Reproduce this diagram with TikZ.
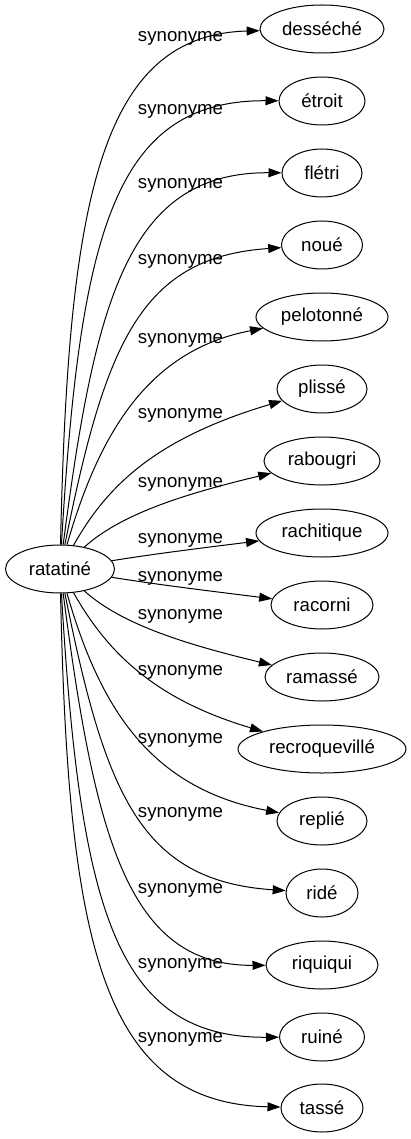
\documentclass[tikz,border=0pt]{standalone}
\usepackage{fontspec}
\setmainfont{Liberation Sans}
\usetikzlibrary{arrows.meta,shapes.geometric}

\begin{document}
\begin{tikzpicture}[x=1pt,y=-1pt,
  word/.style={draw,ellipse,line width=1pt,minimum height=48pt,inner sep=0pt,
    font=\fontsize{18.67}{22}\selectfont},
  rel/.style={anchor=base,inner sep=0pt,font=\fontsize{18.67}{22}\selectfont},
  syn/.style={line width=1pt,-{Triangle[length=13pt,width=9pt]}}]
\useasboundingbox (0,0) rectangle (411,1139);

\node[word,minimum width=109pt] (ratatine) at (60,569) {ratatiné};

\foreach \n/\t/\y/\w in {desseche/desséché/29/124,etroit/étroit/101/86,
    fletri/flétri/173/80,noue/noué/245/81,pelotonne/pelotonné/317/132,
    plisse/plissé/389/90,rabougri/rabougri/461/116,rachitique/rachitique/533/132,
    racorni/racorni/605/102,ramasse/ramassé/677/114,
    recroqueville/recroquevillé/749/168,replie/replié/821/90,ride/ridé/893/72,
    riquiqui/riquiqui/965/112,ruine/ruiné/1037/85,tasse/tassé/1108/82}
  \node[word,minimum width=\w pt] (\n) at (322,\y) {\t};

\foreach \n/\ax/\ay/\bx/\by/\ly in {desseche/68/200/100/35/42,
    etroit/80/230/115/100/115,fletri/95/300/128/172/189,
    noue/105/345/140/257/265,pelotonne/100/430/150/350/343,
    plisse/105/490/150/440/418,rabougri/120/515/180/495/487,
    rachitique/160/553/210/547/543,racorni/160/585/210/591/581,
    ramasse/120/623/180/643/619,recroqueville/105/648/150/698/675,
    replie/100/708/150/788/743,ride/105/793/140/881/817,
    riquiqui/95/838/128/966/893,ruine/80/908/115/1038/968,
    tasse/68/938/100/1103/1042}
  \draw[syn] (ratatine) .. controls (\ax,\ay) and (\bx,\by) .. (\n)
    node[rel] (l\n) at (180.5,\ly) {synonyme};

\end{tikzpicture}
\end{document}
